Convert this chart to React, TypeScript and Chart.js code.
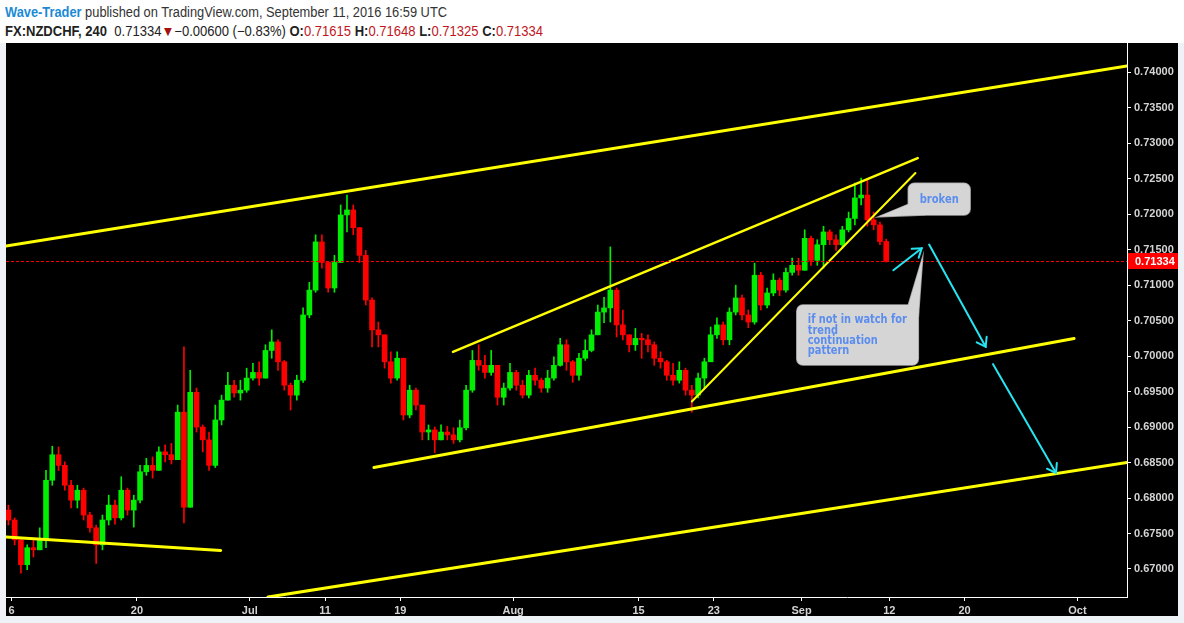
import React, { useEffect, useRef } from 'react';
import { Chart, registerables } from 'chart.js';

Chart.register(...registerables);

// ---------------- data (FX:NZDCHF, 12h bars) ----------------
const barOpen = [
  0.6783, 0.6769, 0.6741, 0.6706, 0.6730, 0.6727, 0.6741, 0.6825, 0.6861, 0.6846,
  0.6818, 0.6797, 0.6811, 0.6776, 0.6758, 0.6734, 0.6769, 0.6790, 0.6772, 0.6811,
  0.6783, 0.6797, 0.6837, 0.6846, 0.6839, 0.6865, 0.6861, 0.6854, 0.6921, 0.6787,
  0.6949, 0.6900, 0.6882, 0.6846, 0.6910, 0.6938, 0.6959, 0.6948, 0.6952, 0.6969,
  0.6977, 0.6969, 0.7008, 0.7020, 0.6992, 0.6959, 0.6945, 0.6966, 0.7058, 0.7093,
  0.7161, 0.7132, 0.7096, 0.7132, 0.7199, 0.7206, 0.7181, 0.7142, 0.7079, 0.7037,
  0.7030, 0.6992, 0.6969, 0.6997, 0.6917, 0.6952, 0.6931, 0.6893, 0.6896, 0.6882,
  0.6893, 0.6889, 0.6882, 0.6899, 0.6952, 0.6994, 0.6987, 0.6977, 0.6987, 0.6942,
  0.6955, 0.6977, 0.6959, 0.6945, 0.6973, 0.6966, 0.6955, 0.6969, 0.6987, 0.7016,
  0.6992, 0.6973, 0.6997, 0.7008, 0.7030, 0.7062, 0.7068, 0.7093, 0.7044, 0.7030,
  0.7016, 0.7025, 0.7023, 0.7016, 0.6997, 0.6992, 0.6973, 0.6966, 0.6980, 0.6952,
  0.6945, 0.6969, 0.6992, 0.7030, 0.7044, 0.7023, 0.7062, 0.7082, 0.7058, 0.7048,
  0.7114, 0.7072, 0.7089, 0.7107, 0.7093, 0.7118, 0.7128, 0.7121, 0.7166, 0.7135,
  0.7157, 0.7175, 0.7164, 0.7157, 0.7178, 0.7194, 0.7223, 0.7227, 0.7192, 0.7185,
  0.71615,
];
const barHigh = [
  0.6790, 0.6772, 0.6744, 0.6734, 0.6741, 0.6758, 0.6839, 0.6873, 0.6872, 0.6851,
  0.6825, 0.6818, 0.6814, 0.6780, 0.6762, 0.6776, 0.6804, 0.6797, 0.6830, 0.6814,
  0.6804, 0.6846, 0.6856, 0.6858, 0.6872, 0.6875, 0.6877, 0.6931, 0.7013, 0.6980,
  0.6955, 0.6903, 0.6893, 0.6931, 0.6945, 0.6977, 0.6966, 0.6966, 0.6983, 0.6990,
  0.6992, 0.7016, 0.7037, 0.7023, 0.6994, 0.6962, 0.6973, 0.7068, 0.7104, 0.7171,
  0.7171, 0.7132, 0.7142, 0.7213, 0.7227, 0.7213, 0.7181, 0.7149, 0.7082, 0.7048,
  0.7030, 0.7006, 0.7006, 0.6997, 0.6959, 0.6955, 0.6931, 0.6903, 0.6900, 0.6903,
  0.6901, 0.6899, 0.6910, 0.6959, 0.7008, 0.7016, 0.7001, 0.7008, 0.6987, 0.6962,
  0.6990, 0.6980, 0.6966, 0.6980, 0.6983, 0.6969, 0.6980, 0.6999, 0.7025, 0.7023,
  0.6994, 0.7004, 0.7023, 0.7037, 0.7072, 0.7083, 0.7154, 0.7096, 0.7065, 0.7030,
  0.7039, 0.7032, 0.7030, 0.7020, 0.7006, 0.6994, 0.6990, 0.6992, 0.6983, 0.6959,
  0.6976, 0.6997, 0.7041, 0.7054, 0.7048, 0.7068, 0.7100, 0.7086, 0.7065, 0.7131,
  0.7118, 0.7096, 0.7116, 0.7110, 0.7124, 0.7138, 0.7138, 0.7178, 0.7169, 0.7164,
  0.7183, 0.7178, 0.7171, 0.7183, 0.7203, 0.7244, 0.7251, 0.7248, 0.7203, 0.7189,
  0.71648,
];
const barLow = [
  0.6762, 0.6734, 0.6694, 0.6699, 0.6717, 0.6727, 0.6730, 0.6818, 0.6839, 0.6811,
  0.6786, 0.6786, 0.6769, 0.6752, 0.6708, 0.6727, 0.6762, 0.6763, 0.6769, 0.6776,
  0.6759, 0.6793, 0.6832, 0.6828, 0.6839, 0.6851, 0.6848, 0.6854, 0.6765, 0.6787,
  0.6893, 0.6865, 0.6839, 0.6843, 0.6903, 0.6938, 0.6942, 0.6938, 0.6949, 0.6966,
  0.6959, 0.6969, 0.6997, 0.6980, 0.6952, 0.6924, 0.6938, 0.6963, 0.7054, 0.7090,
  0.7124, 0.7090, 0.7090, 0.7132, 0.7175, 0.7171, 0.7132, 0.7072, 0.7013, 0.7013,
  0.6983, 0.6962, 0.6966, 0.6910, 0.6913, 0.6924, 0.6882, 0.6882, 0.6864, 0.6882,
  0.6882, 0.6877, 0.6879, 0.6896, 0.6949, 0.6980, 0.6969, 0.6973, 0.6931, 0.6931,
  0.6952, 0.6952, 0.6941, 0.6941, 0.6959, 0.6949, 0.6949, 0.6966, 0.6986, 0.6980,
  0.6963, 0.6966, 0.6994, 0.7006, 0.7030, 0.7047, 0.7048, 0.7027, 0.7023, 0.7006,
  0.7008, 0.6997, 0.7006, 0.6987, 0.6983, 0.6966, 0.6959, 0.6962, 0.6945, 0.6921,
  0.6941, 0.6955, 0.6992, 0.7025, 0.7016, 0.7016, 0.7058, 0.7051, 0.7040, 0.7045,
  0.7065, 0.7068, 0.7085, 0.7085, 0.7090, 0.7114, 0.7114, 0.7121, 0.7128, 0.7128,
  0.7124, 0.7157, 0.7149, 0.7152, 0.7175, 0.7185, 0.7213, 0.7183, 0.7178, 0.7157,
  0.71325,
];
const barClose = [
  0.6769, 0.6741, 0.6706, 0.6730, 0.6727, 0.6741, 0.6825, 0.6861, 0.6846, 0.6818,
  0.6797, 0.6811, 0.6776, 0.6758, 0.6734, 0.6769, 0.6790, 0.6772, 0.6811, 0.6783,
  0.6797, 0.6837, 0.6846, 0.6839, 0.6865, 0.6861, 0.6854, 0.6921, 0.6787, 0.6949,
  0.6900, 0.6882, 0.6846, 0.6910, 0.6938, 0.6959, 0.6948, 0.6952, 0.6969, 0.6977,
  0.6969, 0.7008, 0.7020, 0.6992, 0.6959, 0.6945, 0.6966, 0.7058, 0.7093, 0.7161,
  0.7132, 0.7096, 0.7132, 0.7199, 0.7206, 0.7181, 0.7142, 0.7079, 0.7037, 0.7030,
  0.6992, 0.6969, 0.6997, 0.6917, 0.6952, 0.6931, 0.6893, 0.6896, 0.6882, 0.6893,
  0.6889, 0.6882, 0.6899, 0.6952, 0.6994, 0.6987, 0.6977, 0.6987, 0.6942, 0.6955,
  0.6977, 0.6959, 0.6945, 0.6973, 0.6966, 0.6955, 0.6969, 0.6987, 0.7016, 0.6992,
  0.6973, 0.6997, 0.7008, 0.7030, 0.7062, 0.7068, 0.7093, 0.7044, 0.7030, 0.7016,
  0.7025, 0.7023, 0.7016, 0.6997, 0.6992, 0.6973, 0.6966, 0.6980, 0.6952, 0.6945,
  0.6969, 0.6992, 0.7030, 0.7044, 0.7023, 0.7062, 0.7082, 0.7058, 0.7048, 0.7114,
  0.7072, 0.7089, 0.7107, 0.7093, 0.7118, 0.7128, 0.7121, 0.7166, 0.7135, 0.7157,
  0.7175, 0.7164, 0.7157, 0.7178, 0.7194, 0.7223, 0.7227, 0.7192, 0.7185, 0.71615,
  0.71334,
];

// time axis in trading days (weekends removed), Mon Jun 6 2016 = 0
const firstBarDay = -0.25;
const barStepDays = 0.5;
const xTickDays = [0, 10, 19, 25, 31, 40, 50, 56, 63, 70, 76, 85];
const xTickLabels = ['6', '20', 'Jul', '11', '19', 'Aug', '15', '23', 'Sep', '12', '20', 'Oct'];
const xRange = [-0.44, 88.95];

const yTickValues = [0.67, 0.675, 0.68, 0.685, 0.69, 0.695, 0.7, 0.705, 0.71, 0.715, 0.72, 0.725, 0.73, 0.735, 0.74];
const yRange = [0.66605, 0.74413];
const lastPrice = 0.71334;

// drawn trend lines (day, price)
const channelUpper = [{ x: -0.44, y: 0.71551 }, { x: 88.95, y: 0.74088 }];
const channelMiddle = [{ x: 28.9, y: 0.6843 }, { x: 84.73, y: 0.70247 }];
const channelLower = [{ x: 20.45, y: 0.66604 }, { x: 88.95, y: 0.685 }];
const wedgeUpper = [{ x: 35.2, y: 0.7006 }, { x: 72.26, y: 0.7279 }];
const wedgeLower = [{ x: 54.25, y: 0.6936 }, { x: 72.08, y: 0.7258 }];
const earlyLine = [{ x: -0.44, y: 0.6745 }, { x: 16.68, y: 0.6726 }];

// cyan arrows
const arrowFrom = [{ x: 70.32, y: 0.7121 }, { x: 73.17, y: 0.71572 }, { x: 78.27, y: 0.69887 }];
const arrowTo = [{ x: 72.58, y: 0.7152 }, { x: 77.68, y: 0.70131 }, { x: 83.29, y: 0.68353 }];

// callouts
const calloutText = [['broken'], ['if not in watch for', 'trend', 'continuation', 'pattern']];
const calloutBoxStart = [{ x: 71.51, y: 0.72435 }, { x: 62.62, y: 0.7072 }];
const calloutBoxEnd = [{ x: 76.44, y: 0.71988 }, { x: 72.31, y: 0.69874 }];
const calloutTip = [{ x: 69.12, y: 0.71964 }, { x: 72.66, y: 0.714 }];

// ---------------- styles ----------------
const GREEN = '#00ee00';
const RED = '#ff0000';
const YELLOW = '#ffff00';
const CYAN = '#26e5f2';
const AXIS_TEXT = '#d4d4d4';
const AXIS_FONT = { family: '"Liberation Sans", Arial, sans-serif', size: 11, weight: 'bold' as const };

type Box = { l: number; t: number; r: number; b: number };
const calloutStyles = [
  {
    align: 'center',
    fontSize: 13,
    targetWidth: 39,
    lineHeight: 10.4,
    tail: (b: Box) => [[b.l, b.t + 21], [b.l + 15, b.b]],
  },
  {
    align: 'left',
    fontSize: 12.5,
    targetWidth: 99,
    lineHeight: 10.4,
    tail: (b: Box) => [[b.r - 10, b.t], [b.r, b.t + 12]],
  },
];

function roundRect(ctx: CanvasRenderingContext2D, b: Box, r: number) {
  ctx.beginPath();
  ctx.moveTo(b.l + r, b.t);
  ctx.lineTo(b.r - r, b.t);
  ctx.arcTo(b.r, b.t, b.r, b.t + r, r);
  ctx.lineTo(b.r, b.b - r);
  ctx.arcTo(b.r, b.b, b.r - r, b.b, r);
  ctx.lineTo(b.l + r, b.b);
  ctx.arcTo(b.l, b.b, b.l, b.b - r, r);
  ctx.lineTo(b.l, b.t + r);
  ctx.arcTo(b.l, b.t, b.l + r, b.t, r);
  ctx.closePath();
}

const overlayPlugin = {
  id: 'tvOverlay',
  afterDatasetsDraw(chart: any) {
    const { ctx, chartArea } = chart;
    const xs = chart.scales.x;
    const ys = chart.scales.y;
    const px = (p: { x: number; y: number }) => [xs.getPixelForValue(p.x), ys.getPixelForValue(p.y)];
    ctx.save();
    ctx.beginPath();
    ctx.rect(chartArea.left, chartArea.top, chartArea.right - chartArea.left, chartArea.bottom - chartArea.top);
    ctx.clip();

    // last price dashed line
    const py = Math.round(ys.getPixelForValue(lastPrice)) + 0.5;
    ctx.strokeStyle = RED;
    ctx.lineWidth = 1;
    ctx.setLineDash([3, 2]);
    ctx.beginPath();
    ctx.moveTo(chartArea.left, py);
    ctx.lineTo(chartArea.right, py);
    ctx.stroke();
    ctx.setLineDash([]);

    // arrows
    ctx.strokeStyle = CYAN;
    ctx.lineWidth = 2;
    ctx.lineCap = 'round';
    for (let i = 0; i < arrowFrom.length; i++) {
      const [x1, y1] = px(arrowFrom[i]);
      const [x2, y2] = px(arrowTo[i]);
      ctx.beginPath();
      ctx.moveTo(x1, y1);
      ctx.lineTo(x2, y2);
      ctx.stroke();
      const a = Math.atan2(y2 - y1, x2 - x1);
      const L = 10;
      const s = Math.PI / 5.2;
      ctx.beginPath();
      ctx.moveTo(x2 - L * Math.cos(a - s), y2 - L * Math.sin(a - s));
      ctx.lineTo(x2, y2);
      ctx.lineTo(x2 - L * Math.cos(a + s), y2 - L * Math.sin(a + s));
      ctx.stroke();
    }

    // callouts
    for (let i = 0; i < calloutText.length; i++) {
      const st = calloutStyles[i];
      const [l, t] = px(calloutBoxStart[i]);
      const [r, b] = px(calloutBoxEnd[i]);
      const box = { l, t, r, b };
      const [tx, ty] = px(calloutTip[i]);
      const base = st.tail(box);
      const tailPath = () => {
        ctx.beginPath();
        ctx.moveTo(base[0][0], base[0][1]);
        ctx.lineTo(tx, ty);
        ctx.lineTo(base[1][0], base[1][1]);
        ctx.closePath();
      };
      ctx.lineWidth = 1.5;
      ctx.strokeStyle = '#9c9c9c';
      roundRect(ctx, box, 6);
      ctx.stroke();
      tailPath();
      ctx.stroke();
      ctx.fillStyle = '#d5d5d5';
      roundRect(ctx, box, 6);
      ctx.fill();
      tailPath();
      ctx.fill();

      // text
      ctx.font = `bold ${st.fontSize}px "DejaVu Sans", Verdana, sans-serif`;
      ctx.fillStyle = '#5b8def';
      ctx.textBaseline = 'middle';
      const lines = calloutText[i];
      let widest = 0;
      lines.forEach((s) => (widest = Math.max(widest, ctx.measureText(s).width)));
      const k = st.targetWidth / widest;
      lines.forEach((s, j) => {
        ctx.save();
        if (st.align === 'center') {
          const cx = (l + r) / 2;
          const cy = (t + b) / 2 + (j - (lines.length - 1) / 2) * st.lineHeight;
          ctx.translate(cx, cy);
          ctx.scale(k, 1);
          ctx.textAlign = 'center';
          ctx.fillText(s, 0, 0);
        } else {
          ctx.translate(l + 11, t + 15 + j * st.lineHeight);
          ctx.scale(k, 1);
          ctx.textAlign = 'left';
          ctx.fillText(s, 0, 0);
        }
        ctx.restore();
      });
    }
    ctx.restore();
  },
  afterDraw(chart: any) {
    const { ctx, chartArea, width } = chart;
    const y = chart.scales.y.getPixelForValue(lastPrice);
    ctx.save();
    ctx.fillStyle = RED;
    ctx.fillRect(chartArea.right + 1, Math.round(y) - 8, width - chartArea.right - 1, 16);
    ctx.fillStyle = '#ffffff';
    ctx.font = `bold 11px ${AXIS_FONT.family}`;
    ctx.textBaseline = 'middle';
    ctx.textAlign = 'left';
    ctx.fillText(lastPrice.toFixed(5), chartArea.right + 8, Math.round(y) + 0.5);
    ctx.restore();
  },
};

function fitWidth(el: HTMLElement | null, target: number) {
  if (!el) return;
  el.style.transform = 'none';
  const w = el.getBoundingClientRect().width;
  if (w > 0) el.style.transform = `scaleX(${target / w})`;
}

export default function App() {
  const canvasRef = useRef<HTMLCanvasElement>(null);
  const line1Ref = useRef<HTMLDivElement>(null);
  const line2Ref = useRef<HTMLDivElement>(null);

  useEffect(() => {
    fitWidth(line1Ref.current, 442);
    fitWidth(line2Ref.current, 538);
  }, []);

  useEffect(() => {
    const canvas = canvasRef.current;
    if (!canvas) return;
    const barDay = barClose.map((_, i) => firstBarDay + i * barStepDays);
    const colors = barClose.map((c, i) => (c >= barOpen[i] ? GREEN : RED));

    const trend = (pts: { x: number; y: number }[], w: number) => ({
      type: 'line' as const,
      data: pts,
      borderColor: YELLOW,
      borderWidth: w,
      pointRadius: 0,
      fill: false,
      clip: 0,
      order: 1,
      borderCapStyle: 'round' as const,
    });

    const chart = new Chart(canvas, {
      type: 'bar',
      data: {
        datasets: [
          {
            type: 'bar',
            data: barDay.map((d, i) => ({ x: d, y: [barLow[i], barHigh[i]] })) as any,
            backgroundColor: colors,
            barThickness: 1,
            grouped: false,
            order: 6,
          },
          {
            type: 'bar',
            data: barDay.map((d, i) => ({ x: d, y: [barOpen[i], barClose[i]] })) as any,
            backgroundColor: colors,
            barThickness: 5,
            minBarLength: 1,
            grouped: false,
            order: 5,
          },
          trend(channelUpper, 3),
          trend(channelMiddle, 3),
          trend(channelLower, 3),
          trend(wedgeUpper, 2.5),
          trend(wedgeLower, 2),
          trend(earlyLine, 3),
        ] as any,
      },
      options: {
        responsive: false,
        animation: false,
        devicePixelRatio: 1,
        layout: { padding: 0 },
        plugins: { legend: { display: false }, tooltip: { enabled: false } },
        scales: {
          x: {
            type: 'linear',
            min: xRange[0],
            max: xRange[1],
            offset: false,
            grid: { display: true, offset: false, drawOnChartArea: false, drawTicks: true, tickLength: 4, color: '#ffffff' },
            border: { display: true, color: '#ffffff', width: 1 },
            afterBuildTicks: (s: any) => {
              s.ticks = xTickDays.map((v) => ({ value: v }));
            },
            afterFit: (s: any) => {
              s.height = 19;
              s.paddingLeft = 0;
              s.paddingRight = 0;
            },
            ticks: {
              autoSkip: false,
              maxRotation: 0,
              padding: 3,
              color: AXIS_TEXT,
              font: AXIS_FONT,
              callback: (v: any) => {
                const k = xTickDays.indexOf(Number(v));
                return k >= 0 ? xTickLabels[k] : '';
              },
            },
          },
          y: {
            type: 'linear',
            position: 'right',
            min: yRange[0],
            max: yRange[1],
            beginAtZero: false,
            grid: { display: true, drawOnChartArea: false, drawTicks: true, tickLength: 4, color: '#ffffff' },
            border: { display: true, color: '#ffffff', width: 1 },
            afterBuildTicks: (s: any) => {
              s.ticks = yTickValues.map((v) => ({ value: v }));
            },
            afterFit: (s: any) => {
              s.width = 51;
              s.paddingTop = 0;
              s.paddingBottom = 0;
            },
            ticks: {
              padding: 3,
              color: AXIS_TEXT,
              font: AXIS_FONT,
              callback: (v: any) => Number(v).toFixed(5),
            },
          },
        },
      } as any,
      plugins: [overlayPlugin],
    });
    return () => chart.destroy();
  }, []);

  const bold = { fontWeight: 'bold' as const, color: '#1f1f1f' };
  const red = { color: '#c0171d' };

  return (
    <div
      style={{
        position: 'fixed',
        left: 0,
        top: 0,
        width: 1184,
        height: 623,
        background: '#eef1f6',
        overflow: 'hidden',
        fontFamily: '"Liberation Sans", Arial, sans-serif',
      }}
    >
      <div style={{ position: 'absolute', left: 0, top: 0, width: 1184, height: 43, background: '#ffffff' }}>
        <div
          ref={line1Ref}
          style={{
            position: 'absolute',
            left: 5,
            top: 4,
            fontSize: 14,
            lineHeight: '16px',
            color: '#333333',
            whiteSpace: 'nowrap',
            transformOrigin: 'left top',
          }}
        >
          <span style={{ color: '#1b8ad6', fontWeight: 'bold' }}>Wave-Trader</span> published on TradingView.com, September 11, 2016 16:59 UTC
        </div>
        <div
          ref={line2Ref}
          style={{
            position: 'absolute',
            left: 5,
            top: 23,
            fontSize: 14,
            lineHeight: '16px',
            color: '#222222',
            whiteSpace: 'nowrap',
            transformOrigin: 'left top',
          }}
        >
          <span style={bold}>FX:NZDCHF, 240</span>&nbsp; 0.71334<span style={{ color: '#a50f0f' }}>▼</span>−0.00600 (−0.83%){' '}
          <span style={bold}>O:</span>
          <span style={red}>0.71615</span> <span style={bold}>H:</span>
          <span style={red}>0.71648</span> <span style={bold}>L:</span>
          <span style={red}>0.71325</span> <span style={bold}>C:</span>
          <span style={red}>0.71334</span>
        </div>
      </div>
      <div style={{ position: 'absolute', left: 6, top: 43, width: 1172, height: 573, background: '#000000' }}>
        <canvas ref={canvasRef} width={1172} height={573} style={{ display: 'block', width: 1172, height: 573 }} />
      </div>
    </div>
  );
}
